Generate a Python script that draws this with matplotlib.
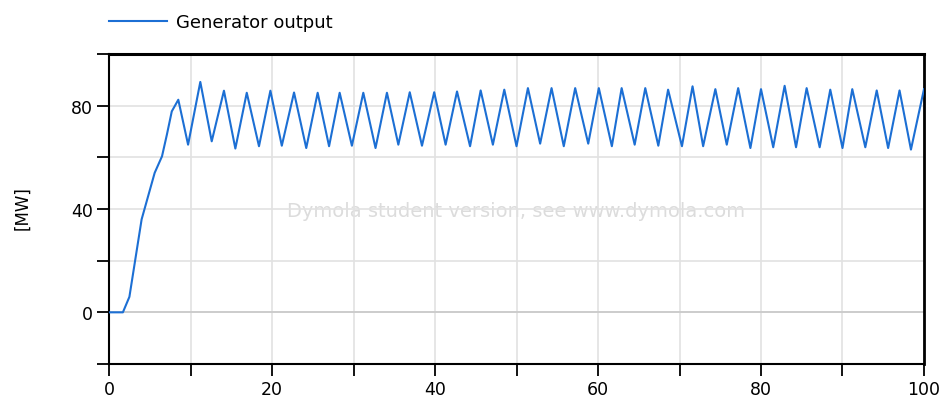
import numpy as np
import matplotlib
matplotlib.use("Agg")
import matplotlib.pyplot as plt

plt.rcParams['font.family'] = ['DejaVu Sans']

# start-up ramp of the generator (time [s], power [MW])
ramp_t = [0.0, 1.7, 2.5, 4.0, 5.6, 6.5, 7.1, 7.7, 8.5]
ramp_p = [0.0, 0.0, 6.0, 36.0, 54.0, 60.4, 68.8, 77.8, 82.3]

# oscillation extremes after the ramp: alternating trough / peak
osc_t = [9.7, 11.2, 12.6, 14.1, 15.5, 16.9, 18.4, 19.8, 21.2, 22.7,
         24.2, 25.6, 27.0, 28.3, 29.8, 31.2, 32.7, 34.1, 35.5, 36.9,
         38.4, 39.9, 41.3, 42.7, 44.3, 45.6, 47.1, 48.5, 50.0, 51.4,
         52.9, 54.3, 55.8, 57.2, 58.8, 60.1, 61.7, 62.9, 64.5, 65.8,
         67.4, 68.6, 70.3, 71.6, 72.9, 74.4, 75.8, 77.2, 78.7, 80.0,
         81.5, 82.9, 84.3, 85.6, 87.2, 88.5, 90.0, 91.2, 92.8, 94.2,
         95.6, 97.0, 98.4, 100.0]
osc_p = [64.9, 89.2, 66.2, 85.8, 63.4, 85.0, 64.3, 85.8, 64.5, 85.1,
         63.6, 85.0, 64.3, 85.0, 64.5, 85.0, 63.6, 85.0, 64.9, 85.2,
         64.5, 85.2, 64.9, 85.5, 64.3, 85.9, 64.9, 86.2, 64.3, 86.8,
         65.3, 86.8, 64.3, 86.8, 65.3, 86.8, 64.3, 86.8, 64.9, 86.8,
         64.5, 86.2, 64.3, 87.5, 64.3, 86.4, 64.9, 86.8, 63.6, 86.4,
         63.9, 87.7, 63.9, 86.8, 63.9, 86.2, 63.6, 86.4, 63.9, 85.9,
         63.6, 85.9, 63.0, 86.4]

t = np.array(ramp_t + osc_t)
p = np.array(ramp_p + osc_p)

fig = plt.figure(figsize=(9.44, 4.06), dpi=100)
ax = fig.add_axes([0.1155, 0.101, 0.8633, 0.7635])

line, = ax.plot(t, p, color='#1c6fd4', lw=1.5, label='Generator output',
                solid_joinstyle='round', zorder=3)

ax.set_xlim(0, 100)
ax.set_ylim(-20, 100)
ax.set_xticks(np.arange(0, 101, 10))
ax.set_xticklabels([str(v) if v % 20 == 0 else '' for v in range(0, 101, 10)])
ax.set_yticks(np.arange(-20, 101, 20))
ax.set_yticklabels(['' if v in (-20, 20, 60, 100) else str(v) for v in range(-20, 101, 20)])
ax.tick_params(direction='out', length=8.5, width=1.3, labelsize=12.5, colors='black', pad=3)
ax.grid(True, color='#e2e2e2', lw=1.2, zorder=1)
ax.axhline(0, color='#c8c8c8', lw=1.2, zorder=1)
ax.set_axisbelow(True)
for s in ax.spines.values():
    s.set_linewidth(1.5)
    s.set_color('black')
ax.spines['top'].set_linewidth(2.2)
ax.spines['right'].set_linewidth(2.0)

fig.text(22 / 944, 1 - 208 / 406, '[MW]', rotation=90, fontsize=12,
         ha='center', va='center')

ax.text(50, 39.5, 'Dymola student version, see www.dymola.com', color='#dcdcdc',
        fontsize=14, ha='center', va='center', zorder=0)

fig.legend(handles=[line], loc='upper left', bbox_to_anchor=(0.098, 1.005),
           frameon=False, fontsize=13, handlelength=3.2, handletextpad=0.55)

fig.savefig('out.png', dpi=100)
